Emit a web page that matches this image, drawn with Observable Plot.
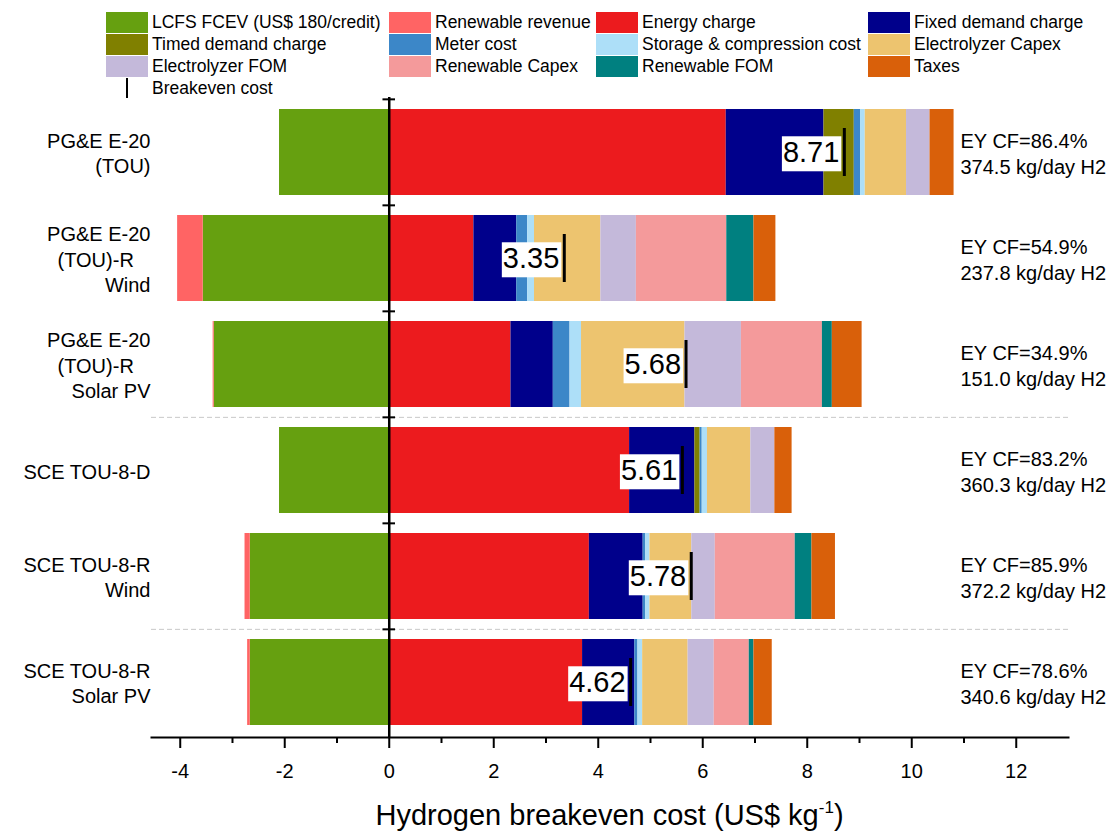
<!DOCTYPE html>
<html>
<head>
<meta charset="utf-8">
<script src="https://cdn.jsdelivr.net/npm/d3@7"></script>
<script src="https://cdn.jsdelivr.net/npm/@observablehq/plot@0.6"></script>
<style>
  html, body { margin: 0; padding: 0; background: #fff; }
  #wrap { position: relative; width: 1114px; height: 831px; font-family: "Liberation Sans", Arial, sans-serif; color: #000; }
  #legend { position: absolute; left: 0; top: 0; width: 1114px; height: 100px; z-index: 2; }
  .sw { position: absolute; width: 42px; height: 21px; }
  .lb { position: absolute; font-size: 17.5px; line-height: 21px; white-space: nowrap; }
  #plot { position: absolute; left: 0; top: 92px; }
  #xtitle { position: absolute; left: 151px; width: 917px; top: 798px; text-align: center; font-size: 29px; line-height: 34px; }
  #xtitle sup { font-size: 17px; vertical-align: 0; position: relative; top: -12px; }
</style>
</head>
<body>
<div id="wrap">
  <div id="legend"></div>
  <div id="plot"></div>
  <div id="xtitle">Hydrogen breakeven cost (US$ kg<sup>-1</sup>)</div>
</div>
<script>
// Scenarios, top to bottom
const categories = [
  "PG&E E-20 (TOU)",
  "PG&E E-20 (TOU)-R Wind",
  "PG&E E-20 (TOU)-R Solar PV",
  "SCE TOU-8-D",
  "SCE TOU-8-R Wind",
  "SCE TOU-8-R Solar PV"
];
const categoryLabels = [
  "PG&E E-20\n(TOU)",
  "PG&E E-20\n(TOU)-R\u00a0\u00a0\u00a0\nWind",
  "PG&E E-20\n(TOU)-R\u00a0\u00a0\u00a0\nSolar PV",
  "SCE TOU-8-D",
  "SCE TOU-8-R\nWind",
  "SCE TOU-8-R\nSolar PV"
];
const cfLabels = ["EY CF=86.4%", "EY CF=54.9%", "EY CF=34.9%", "EY CF=83.2%", "EY CF=85.9%", "EY CF=78.6%"];
const outputLabels = ["374.5 kg/day H2", "237.8 kg/day H2", "151.0 kg/day H2", "360.3 kg/day H2", "372.2 kg/day H2", "340.6 kg/day H2"];

// Cost components (US$/kg), one value per scenario
const lcfsCredit         = [-2.10, -3.56, -3.35, -2.10, -2.66, -2.66];
const renewableRevenue   = [ 0.00, -0.49, -0.02,  0.00, -0.10, -0.05];
const energyCharge       = [ 6.45,  1.62,  2.33,  4.60,  3.83,  3.70];
const fixedDemandCharge  = [ 1.87,  0.82,  0.81,  1.25,  1.03,  1.00];
const timedDemandCharge  = [ 0.58,  0.00,  0.00,  0.10,  0.00,  0.00];
const meterCost          = [ 0.12,  0.21,  0.32,  0.04,  0.05,  0.06];
const storageCompression = [ 0.09,  0.13,  0.22,  0.10,  0.08,  0.09];
const electrolyzerCapex  = [ 0.79,  1.27,  1.98,  0.83,  0.80,  0.87];
const electrolyzerFom    = [ 0.45,  0.68,  1.08,  0.46,  0.45,  0.50];
const renewableCapex     = [ 0.00,  1.73,  1.55,  0.00,  1.53,  0.67];
const renewableFom       = [ 0.00,  0.52,  0.19,  0.00,  0.32,  0.09];
const taxes              = [ 0.46,  0.42,  0.57,  0.33,  0.45,  0.35];

// Net breakeven cost per scenario
const breakeven = [8.71, 3.35, 5.68, 5.61, 5.78, 4.62];

const seriesNames = [
  "LCFS FCEV (US$ 180/credit)", "Renewable revenue", "Energy charge", "Fixed demand charge",
  "Timed demand charge", "Meter cost", "Storage & compression cost", "Electrolyzer Capex",
  "Electrolyzer FOM", "Renewable Capex", "Renewable FOM", "Taxes"
];
const seriesValues = [
  lcfsCredit, renewableRevenue, energyCharge, fixedDemandCharge,
  timedDemandCharge, meterCost, storageCompression, electrolyzerCapex,
  electrolyzerFom, renewableCapex, renewableFom, taxes
];
const seriesColors = [
  "#66a010", "#ff6464", "#ec1b1e", "#00008b",
  "#808000", "#3c87c8", "#addff8", "#edc46f",
  "#c4b9da", "#f49a9b", "#008080", "#d9600a"
];

const majorTicks = [-4, -2, 0, 2, 4, 6, 8, 10, 12];
const minorTicks = [-3, -1, 1, 3, 5, 7, 9, 11];
const separatorAbove = ["SCE TOU-8-D", "SCE TOU-8-R Solar PV"];

// Long-format rows for the stacked bars
const rows = [];
categories.forEach((c, i) => {
  seriesNames.forEach((s, j) => {
    rows.push({category: c, series: s, value: seriesValues[j][i]});
  });
});
const scenarios = categories.map((c, i) => ({
  category: c, label: categoryLabels[i], breakeven: breakeven[i],
  note: cfLabels[i] + "\n" + outputLabels[i]
}));
const breakevenText = breakeven.map(v => v.toFixed(2));

// Legend
const legend = document.getElementById("legend");
const colX = [106, 389, 596, 868];
const rowY = [12, 34, 56];
seriesNames.forEach((s, k) => {
  const c = k % 4, r = Math.floor(k / 4);
  const sw = document.createElement("div");
  sw.className = "sw";
  sw.style.left = colX[c] + "px";
  sw.style.top = rowY[r] + "px";
  sw.style.background = seriesColors[k];
  legend.appendChild(sw);
  const lb = document.createElement("div");
  lb.className = "lb";
  lb.style.left = (colX[c] + 46) + "px";
  lb.style.top = rowY[r] + "px";
  lb.textContent = s;
  legend.appendChild(lb);
});
const beLine = document.createElement("div");
beLine.style.cssText = "position:absolute;left:126px;top:78px;width:2px;height:20px;background:#000;";
legend.appendChild(beLine);
const beLab = document.createElement("div");
beLab.className = "lb";
beLab.style.left = "152px";
beLab.style.top = "78px";
beLab.textContent = "Breakeven cost";
legend.appendChild(beLab);

const H = 700, MT = 5, MB = 55;
const step = (H - MT - MB) / (categories.length - 0.19 + 2 * 0.105);

const chart = Plot.plot({
  width: 1114,
  height: H,
  marginLeft: 151,
  marginRight: 46,
  marginTop: MT,
  marginBottom: MB,
  style: {fontFamily: "'Liberation Sans', Arial, sans-serif", color: "#000", background: "#fff", overflow: "visible"},
  x: {domain: [-4.55, 13]},
  y: {domain: categories, axis: null, paddingInner: 0.19, paddingOuter: 0.105},
  color: {domain: seriesNames, range: seriesColors},
  marks: [
    Plot.ruleY(separatorAbove, {y: d => d, dy: -step / 2, stroke: "#c8c8c8", strokeWidth: 1, strokeDasharray: "5,3"}),
    Plot.barX(rows, Plot.stackX({x: "value", y: "category", fill: "series", order: null})),
    Plot.ruleX([0], {stroke: "#000", strokeWidth: 2.5}),
    Plot.ruleY(categories, {y: d => d, x1: -0.12, x2: 0.12, dy: -step / 2, stroke: "#000", strokeWidth: 2}),
    Plot.frame({anchor: "bottom", stroke: "#000", strokeWidth: 2}),
    Plot.axisX({ticks: majorTicks, tickSize: 11, tickPadding: 15, strokeWidth: 2, fontSize: 20, tickFormat: d => String(d), label: null}),
    Plot.axisX({ticks: minorTicks, tickSize: 6, strokeWidth: 2, tickFormat: () => "", label: null}),
    Plot.text(scenarios, {y: "category", text: "label", frameAnchor: "left", textAnchor: "end", dx: -1, fontSize: 20, lineHeight: 1.27, fill: "#000"}),
    Plot.text(scenarios, {y: "category", text: "note", frameAnchor: "right", textAnchor: "start", dx: -108, fontSize: 20, lineHeight: 1.3, fill: "#000"}),
    Plot.text(scenarios, {x: "breakeven", y: "category", text: d => d.breakeven.toFixed(2), textAnchor: "end", dx: -5, fontSize: 29, fill: "#000"}),
    Plot.tickX(scenarios, {x: "breakeven", y: "category", stroke: "#000", strokeWidth: 3, insetTop: 19, insetBottom: 19})
  ]
});

document.getElementById("plot").appendChild(chart);

// White boxes behind the breakeven values
Array.from(chart.querySelectorAll("text"))
  .filter(t => breakevenText.includes(t.textContent))
  .forEach(t => {
    const b = t.getBBox();
    const r = document.createElementNS("http://www.w3.org/2000/svg", "rect");
    r.setAttribute("x", b.x - 1);
    r.setAttribute("y", b.y + 0.5);
    r.setAttribute("width", b.width + 3);
    r.setAttribute("height", b.height + 3);
    r.setAttribute("fill", "#fff");
    r.setAttribute("stroke", "none");
    const tr = t.getAttribute("transform");
    if (tr) r.setAttribute("transform", tr);
    t.parentNode.insertBefore(r, t);
  });
</script>
</body>
</html>
